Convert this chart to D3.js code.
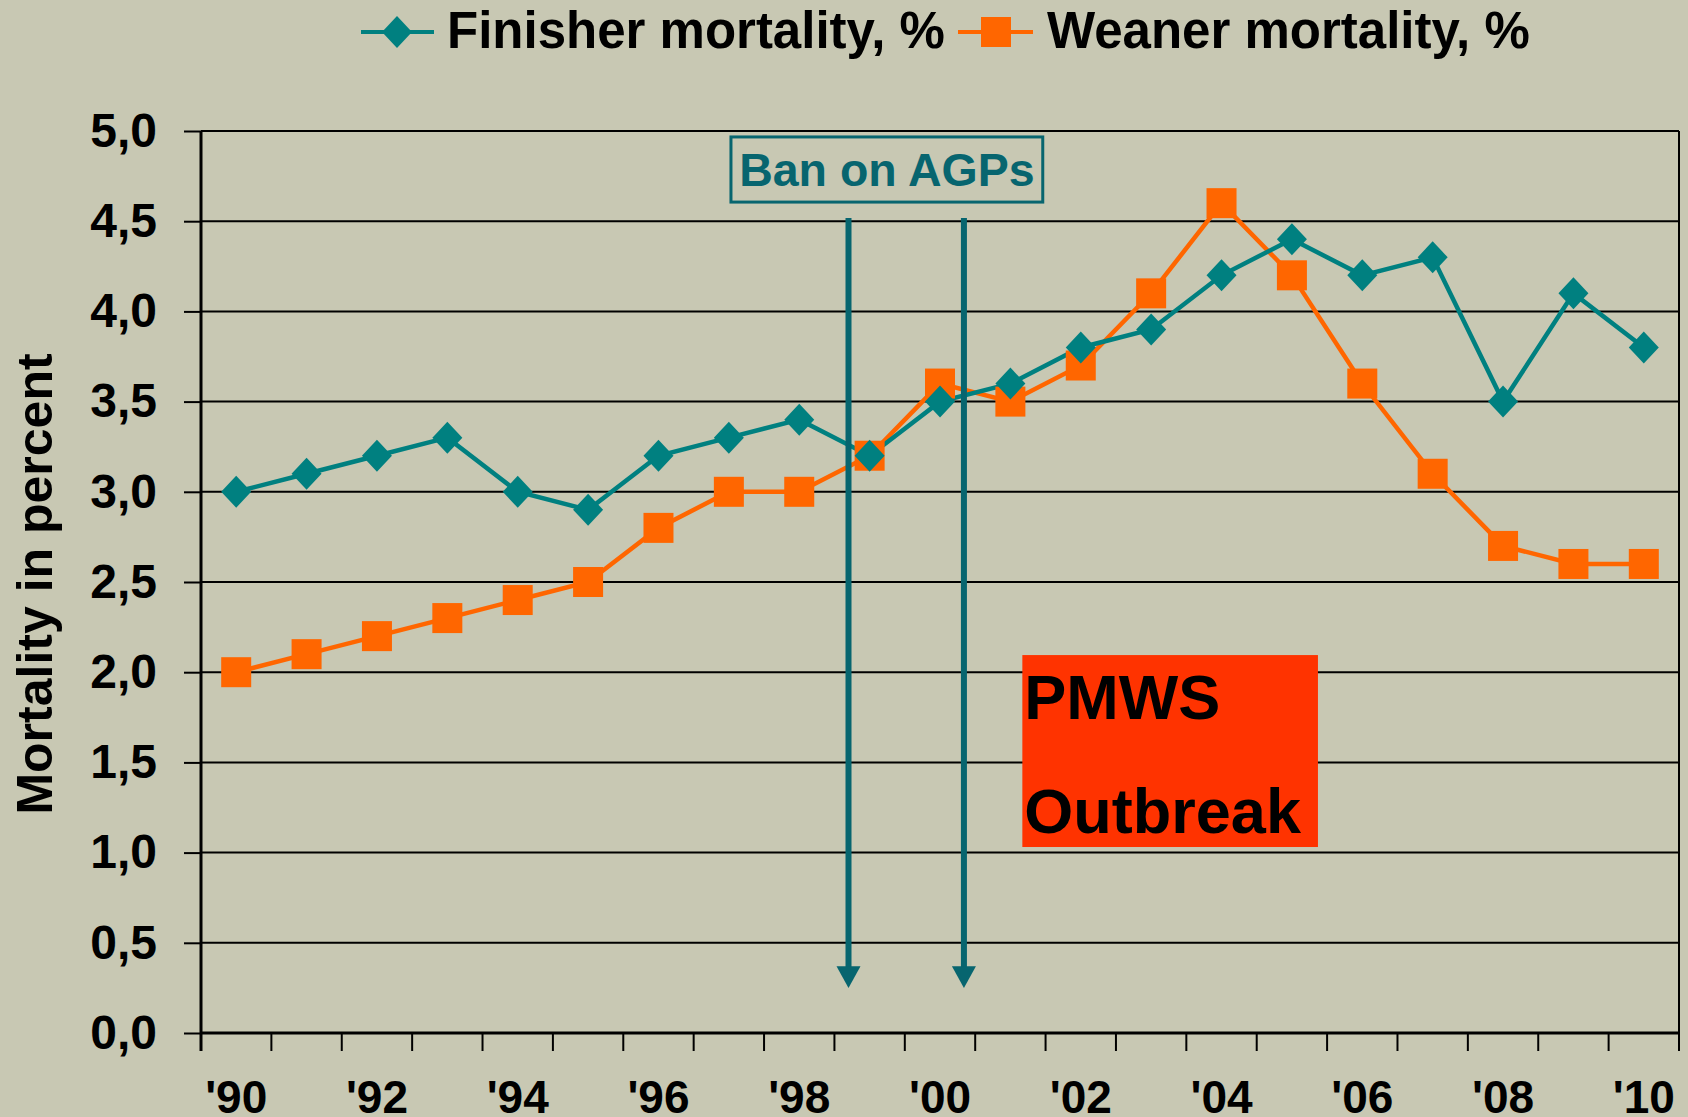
<!DOCTYPE html>
<html>
<head>
<meta charset="utf-8">
<script src="https://cdn.jsdelivr.net/npm/d3@7"></script>
<style>
  html, body { margin: 0; padding: 0; background: #c8c8b3; }
  svg { display: block; font-family: "Liberation Sans", Arial, sans-serif; font-weight: bold; }
</style>
</head>
<body>
<svg width="1688" height="1117"></svg>
<script>
// data
var years = d3.range(1990, 2011);
var yearLabels = ["'90", "'92", "'94", "'96", "'98", "'00", "'02", "'04", "'06", "'08", "'10"];
var finisher = [3.0, 3.1, 3.2, 3.3, 3.0, 2.9, 3.2, 3.3, 3.4, 3.2, 3.5, 3.6, 3.8, 3.9, 4.2, 4.4, 4.2, 4.3, 3.5, 4.1, 3.8];
var weaner   = [2.0, 2.1, 2.2, 2.3, 2.4, 2.5, 2.8, 3.0, 3.0, 3.2, 3.6, 3.5, 3.7, 4.1, 4.6, 4.2, 3.6, 3.1, 2.7, 2.6, 2.6];
var yTicks = [0, 0.5, 1, 1.5, 2, 2.5, 3, 3.5, 4, 4.5, 5];
var arrowYears = [1999.2, 2000.84]; // where the two ban arrows sit (band-edge years)

var svg = d3.select("svg");
var margin = {top: 131, right: 9, bottom: 84, left: 201};
var W = 1688, H = 1117;
var plotWidth = W - margin.left - margin.right;
var plotHeight = H - margin.top - margin.bottom;

var x = d3.scaleBand().domain(years).range([0, plotWidth]).padding(0);
var xe = d3.scaleLinear().domain([1990, 2011]).range([0, plotWidth]); // edge based, for annotations
var y = d3.scaleLinear().domain([0, 5]).range([plotHeight, 0]);
var cx = function(d, i) { return x(years[i]) + x.bandwidth() / 2; };

var plot = svg.append("g").attr("id", "plot")
  .attr("transform", "translate(" + margin.left + "," + margin.top + ")");

// gridlines
plot.append("g").selectAll("line").data(yTicks).join("line")
  .attr("x1", 0).attr("x2", plotWidth)
  .attr("y1", function(d) { return y(d); }).attr("y2", function(d) { return y(d); })
  .attr("stroke", "#000").attr("stroke-width", 2);
// right border
plot.append("line").attr("x1", plotWidth).attr("x2", plotWidth).attr("y1", 0).attr("y2", plotHeight)
  .attr("stroke", "#000").attr("stroke-width", 2);

// y axis
var yAxis = d3.axisLeft(y).tickValues(yTicks).tickSize(17).tickPadding(27)
  .tickFormat(function(d) { return d3.format(".1f")(d).replace(".", ","); });
var yGroup = plot.append("g").attr("id", "y-axis").call(yAxis);
yGroup.select(".domain").attr("stroke", "#000").attr("stroke-width", 3).attr("d", "M0,0V" + (plotHeight + 18));
yGroup.selectAll(".tick line").attr("stroke", "#000").attr("stroke-width", 2);
yGroup.selectAll("text").attr("font-size", 48).attr("font-weight", "bold").attr("fill", "#000")
  .attr("font-family", "Liberation Sans, Arial, sans-serif");

// x axis: ticks on band edges
var xAxisG = plot.append("g").attr("id", "x-axis").attr("transform", "translate(0," + plotHeight + ")");
xAxisG.append("line").attr("x1", 0).attr("x2", plotWidth).attr("stroke", "#000").attr("stroke-width", 3);
xAxisG.selectAll("line.tk").data(d3.range(1990, 2012)).join("line").attr("class", "tk")
  .attr("x1", function(d) { return xe(d); }).attr("x2", function(d) { return xe(d); })
  .attr("y1", 0).attr("y2", 18).attr("stroke", "#000").attr("stroke-width", 2);
xAxisG.selectAll("text").data(yearLabels).join("text")
  .attr("x", function(d, i) { return x(years[i * 2]) + x.bandwidth() / 2; })
  .attr("y", 80).attr("text-anchor", "middle").attr("font-size", 46).attr("fill", "#000")
  .text(function(d) { return d; });

// y axis title
svg.append("text")
  .attr("transform", "translate(52," + (margin.top + plotHeight / 2 + 2) + ") rotate(-90)")
  .attr("text-anchor", "middle").attr("font-size", 50).attr("fill", "#000")
  .text("Mortality in percent");

// PMWS box
var pm = plot.append("g");
pm.append("rect")
  .attr("x", xe(2001.67)).attr("y", y(2.095))
  .attr("width", xe(2005.87) - xe(2001.67)).attr("height", y(1.031) - y(2.095))
  .attr("fill", "#ff3300");
pm.append("text").attr("x", xe(2001.67) + 2).attr("y", y(2.095) + 64)
  .attr("font-size", 63).attr("fill", "#000").text("PMWS");
pm.append("text").attr("x", xe(2001.67) + 2).attr("y", y(2.095) + 178)
  .attr("font-size", 63).attr("fill", "#000").text("Outbreak");

// series
var teal = "#008080", orange = "#ff6600", arrowCol = "#07656f";
var line = d3.line().x(cx).y(function(d) { return y(d); });
plot.append("path").datum(weaner).attr("d", line).attr("fill", "none").attr("stroke", orange).attr("stroke-width", 4.5);
plot.append("path").datum(finisher).attr("d", line).attr("fill", "none").attr("stroke", teal).attr("stroke-width", 4.5);
plot.append("g").selectAll("rect").data(weaner).join("rect")
  .attr("x", function(d, i) { return cx(d, i) - 15; }).attr("y", function(d) { return y(d) - 15; })
  .attr("width", 30).attr("height", 30).attr("fill", orange);
var diamond = "M0,-16L15,0L0,16L-15,0Z";
plot.append("g").selectAll("path").data(finisher).join("path")
  .attr("transform", function(d, i) { return "translate(" + cx(d, i) + "," + y(d) + ")"; })
  .attr("d", diamond).attr("fill", teal);

// ban arrows
var arr = plot.append("g");
arrowYears.forEach(function(yr) {
  var ax = xe(yr);
  arr.append("line").attr("x1", ax).attr("x2", ax).attr("y1", y(4.518)).attr("y2", y(0.33))
    .attr("stroke", arrowCol).attr("stroke-width", 6);
  arr.append("path")
    .attr("d", "M" + (ax - 12) + "," + y(0.37) + "L" + (ax + 12) + "," + y(0.37) + "L" + ax + "," + y(0.25) + "Z")
    .attr("fill", arrowCol);
});

// Ban box
plot.append("rect")
  .attr("x", xe(1997.53)).attr("y", y(4.967))
  .attr("width", xe(2001.96) - xe(1997.53)).attr("height", y(4.606) - y(4.967))
  .attr("fill", "none").attr("stroke", arrowCol).attr("stroke-width", 3);
plot.append("text")
  .attr("x", (xe(1997.53) + xe(2001.96)) / 2).attr("y", y(4.967) + 49)
  .attr("text-anchor", "middle").attr("font-size", 46.5).attr("fill", arrowCol).text("Ban on AGPs");

// legend
var lg = svg.append("g").attr("id", "legend");
lg.append("line").attr("x1", 361).attr("x2", 434).attr("y1", 32).attr("y2", 32).attr("stroke", teal).attr("stroke-width", 4);
lg.append("path").attr("transform", "translate(397,32)").attr("d", diamond).attr("fill", teal);
lg.append("text").attr("x", 447).attr("y", 48).attr("font-size", 51).attr("fill", "#000").text("Finisher mortality, %");
lg.append("line").attr("x1", 958).attr("x2", 1033).attr("y1", 32).attr("y2", 32).attr("stroke", orange).attr("stroke-width", 4);
lg.append("rect").attr("x", 981).attr("y", 17).attr("width", 30).attr("height", 30).attr("fill", orange);
lg.append("text").attr("x", 1047).attr("y", 48).attr("font-size", 51).attr("fill", "#000").text("Weaner mortality, %");
</script>
</body>
</html>
